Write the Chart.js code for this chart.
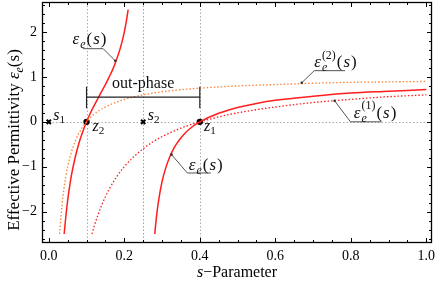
<!DOCTYPE html>
<html>
<head>
<meta charset="utf-8">
<script src="https://cdn.jsdelivr.net/npm/chart.js@4/dist/chart.umd.min.js"></script>
<style>html,body{margin:0;background:#fff}canvas{display:block}</style>
</head>
<body>
<canvas id="c" width="436" height="283"></canvas>
<script>
// eps_e(s), left branch (between pole s1 and pole s2)
const sBranchA   = [0.0407, 0.045, 0.05, 0.055, 0.06, 0.07, 0.08, 0.09, 0.10, 0.11, 0.12, 0.13, 0.14, 0.15, 0.16, 0.17, 0.18, 0.19, 0.20, 0.205, 0.2102];
const epsBranchA = [-2.5, -2.12, -1.75, -1.45, -1.19, -0.79, -0.47, -0.22, 0, 0.19, 0.36, 0.52, 0.68, 0.83, 1.0, 1.18, 1.40, 1.66, 2.0, 2.22, 2.5];
// eps_e(s), right branch
const sBranchB   = [0.2807, 0.285, 0.29, 0.30, 0.31, 0.32, 0.33, 0.34, 0.36, 0.38, 0.40, 0.45, 0.50, 0.55, 0.60, 0.70, 0.80, 0.90, 1.00];
const epsBranchB = [-2.5, -2.13, -1.80, -1.33, -1.02, -0.79, -0.61, -0.47, -0.26, -0.11, 0, 0.19, 0.32, 0.41, 0.48, 0.57, 0.64, 0.68, 0.72];
// eps_e^(1)(s)
const sEps1   = [0.1143, 0.12, 0.13, 0.14, 0.15, 0.16, 0.18, 0.20, 0.225, 0.25, 0.275, 0.30, 0.35, 0.40, 0.45, 0.50, 0.60, 0.70, 0.80, 0.90, 1.00];
const epsOne  = [-2.5, -2.33, -2.08, -1.86, -1.67, -1.5, -1.22, -1.0, -0.78, -0.6, -0.45, -0.33, -0.14, 0, 0.11, 0.2, 0.33, 0.43, 0.5, 0.56, 0.6];
// eps_e^(2)(s)
const sEps2   = [0.0286, 0.03, 0.035, 0.04, 0.045, 0.05, 0.06, 0.07, 0.08, 0.10, 0.12, 0.15, 0.20, 0.25, 0.30, 0.40, 0.50, 0.60, 0.70, 0.80, 0.90, 1.00];
const epsTwo  = [-2.5, -2.33, -1.86, -1.5, -1.22, -1.0, -0.67, -0.43, -0.25, 0, 0.17, 0.33, 0.5, 0.6, 0.67, 0.75, 0.8, 0.83, 0.86, 0.88, 0.89, 0.9];
// poles and zeros on the s axis
const poleS = [0, 0.25];
const zeroS = [0.1, 0.4];

const xTicks = [0, 0.2, 0.4, 0.6, 0.8, 1.0];
const yTicks = [-2, -1, 0, 1, 2];

const SERIF = '"Liberation Serif", "DejaVu Serif", serif';
const RED = 'rgb(255,30,30)';
const ORANGE = 'rgb(255,130,50)';

function pts(xs, ys) { return xs.map((x, i) => ({ x: x, y: ys[i] })); }
function font(size, it) { return (it ? 'italic ' : '') + size + 'px ' + SERIF; }

function partWidth(ctx, p, size) {
  if (p.stack) {
    ctx.font = font(size * 0.7, false); const a = ctx.measureText(p.stack[0]).width;
    ctx.font = font(size * 0.7, true);  const b = ctx.measureText(p.stack[1]).width;
    return Math.max(a, b);
  }
  ctx.font = font(p.sub ? size * 0.7 : size, p.it);
  return ctx.measureText(p.t).width;
}
function drawRich(ctx, parts, x, y, size, align, sp) {
  sp = sp || 0;
  let w = 0;
  parts.forEach(p => w += partWidth(ctx, p, size) + sp);
  if (align === 'center') x -= w / 2;
  ctx.textAlign = 'left';
  ctx.textBaseline = 'alphabetic';
  parts.forEach(p => {
    const pw = partWidth(ctx, p, size);
    if (p.stack) {
      ctx.font = font(size * 0.7, false); ctx.fillText(p.stack[0], x, y - size * 0.5);
      ctx.font = font(size * 0.7, true);  ctx.fillText(p.stack[1], x, y + size * 0.22);
    } else {
      ctx.font = font(p.sub ? size * 0.7 : size, p.it);
      ctx.fillText(p.t, x, y + (p.sub ? size * 0.22 : 0));
    }
    x += pw + sp;
  });
}

const epsE  = [{ t: 'ε', it: true }, { t: 'e', it: true, sub: true }, { t: '(' }, { t: 's', it: true }, { t: ')' }];
const epsE1 = [{ t: 'ε', it: true }, { stack: ['(1)', 'e'] }, { t: '(' }, { t: 's', it: true }, { t: ')' }];
const epsE2 = [{ t: 'ε', it: true }, { stack: ['(2)', 'e'] }, { t: '(' }, { t: 's', it: true }, { t: ')' }];

// callout labels: text anchor, then leader path (data units)
const callouts = [
  { parts: epsE,  at: [0.063, 1.73],  path: [[0.090, 1.63], [0.144, 1.63], [0.176, 1.36]] },
  { parts: epsE2, at: [0.703, 1.22],  path: [[0.785, 1.14], [0.703, 1.14], [0.670, 0.87]] },
  { parts: epsE1, at: [0.808, 0.09],  path: [[0.881, 0.0], [0.799, 0.0], [0.757, 0.47]] },
  { parts: epsE,  at: [0.371, -1.07], path: [[0.429, -1.14], [0.367, -1.14], [0.325, -0.73]] }
];
const pointLabels = [
  { parts: [{ t: 's', it: true }, { t: '1', sub: true }], at: [0.012, 0.05] },
  { parts: [{ t: 's', it: true }, { t: '2', sub: true }], at: [0.262, 0.05] },
  { parts: [{ t: 'z', it: true }, { t: '2', sub: true }], at: [0.116, -0.2] },
  { parts: [{ t: 'z', it: true }, { t: '1', sub: true }], at: [0.411, -0.2] }
];

const decor = {
  id: 'decor',
  beforeDatasetsDraw(chart) {
    const { ctx, chartArea: a, scales: { x, y } } = chart;
    ctx.save();
    ctx.lineWidth = 1;
    ctx.setLineDash([1.5, 2]);
    const y0 = Math.round(y.getPixelForValue(0)) + 0.5;
    ctx.strokeStyle = '#aaa';
    ctx.beginPath(); ctx.moveTo(a.left, y0); ctx.lineTo(a.right, y0); ctx.stroke();
    zeroS.forEach(s => {
      const px = Math.round(x.getPixelForValue(s)) + 0.5;
      ctx.beginPath(); ctx.moveTo(px, a.top); ctx.lineTo(px, a.bottom); ctx.stroke();
    });
    ctx.strokeStyle = 'rgb(255,120,120)';
    const p2 = Math.round(x.getPixelForValue(poleS[1])) + 0.5;
    ctx.beginPath(); ctx.moveTo(p2, a.top); ctx.lineTo(p2, a.bottom); ctx.stroke();
    ctx.restore();
  },
  afterDatasetsDraw(chart) {
    const { ctx, chartArea: a, scales: { x, y } } = chart;
    const X = v => x.getPixelForValue(v), Y = v => y.getPixelForValue(v);
    ctx.save();
    // frame
    ctx.strokeStyle = '#000';
    ctx.lineWidth = 1.3;
    ctx.strokeRect(a.left + 0.5, a.top + 0.5, a.right - a.left - 1, a.bottom - a.top - 1);
    // inward ticks on all four sides
    ctx.lineWidth = 1;
    ctx.beginPath();
    for (let i = 0; i <= 20; i++) {
      const v = i * 0.05, px = Math.round(X(v)) + 0.5, len = i % 4 === 0 ? 5 : 3;
      ctx.moveTo(px, a.bottom); ctx.lineTo(px, a.bottom - len);
      ctx.moveTo(px, a.top); ctx.lineTo(px, a.top + len);
    }
    for (let i = -13; i <= 13; i++) {
      const v = i * 0.2, py = Math.round(Y(v)) + 0.5, len = i % 5 === 0 ? 5 : 3;
      ctx.moveTo(a.left, py); ctx.lineTo(a.left + len, py);
      ctx.moveTo(a.right, py); ctx.lineTo(a.right - len, py);
    }
    ctx.stroke();

    // out-phase bracket
    ctx.strokeStyle = '#222';
    ctx.lineWidth = 1.2;
    ctx.beginPath();
    ctx.moveTo(X(zeroS[0]), Y(0.55)); ctx.lineTo(X(zeroS[1]), Y(0.55));
    ctx.moveTo(X(zeroS[0]), Y(0.30)); ctx.lineTo(X(zeroS[0]), Y(0.78));
    ctx.moveTo(X(zeroS[1]), Y(0.30)); ctx.lineTo(X(zeroS[1]), Y(0.78));
    ctx.stroke();
    ctx.fillStyle = '#111';
    ctx.font = font(16, false);
    ctx.textAlign = 'center';
    ctx.fillText('out-phase', X(0.25), Y(0.76));

    // callouts
    callouts.forEach(c => {
      ctx.strokeStyle = '#555';
      ctx.lineWidth = 1;
      ctx.beginPath();
      c.path.forEach((p, i) => i ? ctx.lineTo(X(p[0]), Y(p[1])) : ctx.moveTo(X(p[0]), Y(p[1])));
      ctx.stroke();
      const e = c.path[c.path.length - 1];
      ctx.fillStyle = '#333';
      ctx.beginPath(); ctx.arc(X(e[0]), Y(e[1]), 1.3, 0, Math.PI * 2); ctx.fill();
      ctx.fillStyle = '#111';
      drawRich(ctx, c.parts, X(c.at[0]), Y(c.at[1]), 17, 'left', 1);
    });
    pointLabels.forEach(l => { ctx.fillStyle = '#111'; drawRich(ctx, l.parts, X(l.at[0]), Y(l.at[1]), 16); });

    // axis titles
    ctx.fillStyle = '#000';
    drawRich(ctx, [{ t: 's', it: true }, { t: '−Parameter' }], (a.left + a.right) / 2, 277, 16, 'center');
    ctx.translate(19, 140);
    ctx.rotate(-Math.PI / 2);
    drawRich(ctx, [{ t: 'Effective Permittivity ' }, { t: 'ε', it: true }, { t: 'e', it: true, sub: true }, { t: '(s)' }], 0, 0, 17, 'center');
    ctx.restore();
  }
};

const curve = (data, color, dashed, width) => ({
  data: data, showLine: true, pointRadius: 0, borderColor: color, borderWidth: width,
  borderDash: dashed ? [1.5, 2] : [], cubicInterpolationMode: 'monotone', fill: false
});

new Chart(document.getElementById('c'), {
  type: 'scatter',
  data: {
    datasets: [
      curve(pts(sEps2, epsTwo), ORANGE, true, 1.3),
      curve(pts(sEps1, epsOne), RED, true, 1.3),
      curve(pts(sBranchA, epsBranchA), RED, false, 1.5),
      curve(pts(sBranchB, epsBranchB), RED, false, 1.5),
      { data: poleS.map(s => ({ x: s, y: 0 })), pointStyle: 'crossRot', pointRadius: 3, borderWidth: 2, borderColor: '#000', showLine: false },
      { data: zeroS.map(s => ({ x: s, y: 0 })), pointStyle: 'circle', pointRadius: 3.2, backgroundColor: '#000', borderColor: '#000', borderWidth: 0, showLine: false }
    ]
  },
  options: {
    responsive: false,
    animation: false,
    layout: { autoPadding: false, padding: { top: 2, right: 4, left: 0, bottom: 0 } },
    plugins: { legend: { display: false }, tooltip: { enabled: false } },
    scales: {
      x: {
        type: 'linear', min: -0.018, max: 1.015,
        grid: { display: false, drawTicks: false }, border: { display: false },
        afterBuildTicks: s => { s.ticks = xTicks.map(v => ({ value: v })); },
        afterFit: s => { s.height = 40; s.paddingLeft = 0; s.paddingRight = 0; },
        ticks: { padding: 5, maxRotation: 0, color: '#000', font: { family: SERIF, size: 14 }, callback: v => v.toFixed(1) }
      },
      y: {
        type: 'linear', min: -2.7, max: 2.67,
        grid: { display: false, drawTicks: false }, border: { display: false },
        afterBuildTicks: s => { s.ticks = yTicks.map(v => ({ value: v })); },
        afterFit: s => { s.width = 42; s.paddingTop = 0; s.paddingBottom = 0; },
        ticks: { padding: 5, color: '#000', font: { family: SERIF, size: 14 }, callback: v => v < 0 ? '−' + Math.abs(v) : String(v) }
      }
    }
  },
  plugins: [decor]
});
</script>
</body>
</html>
